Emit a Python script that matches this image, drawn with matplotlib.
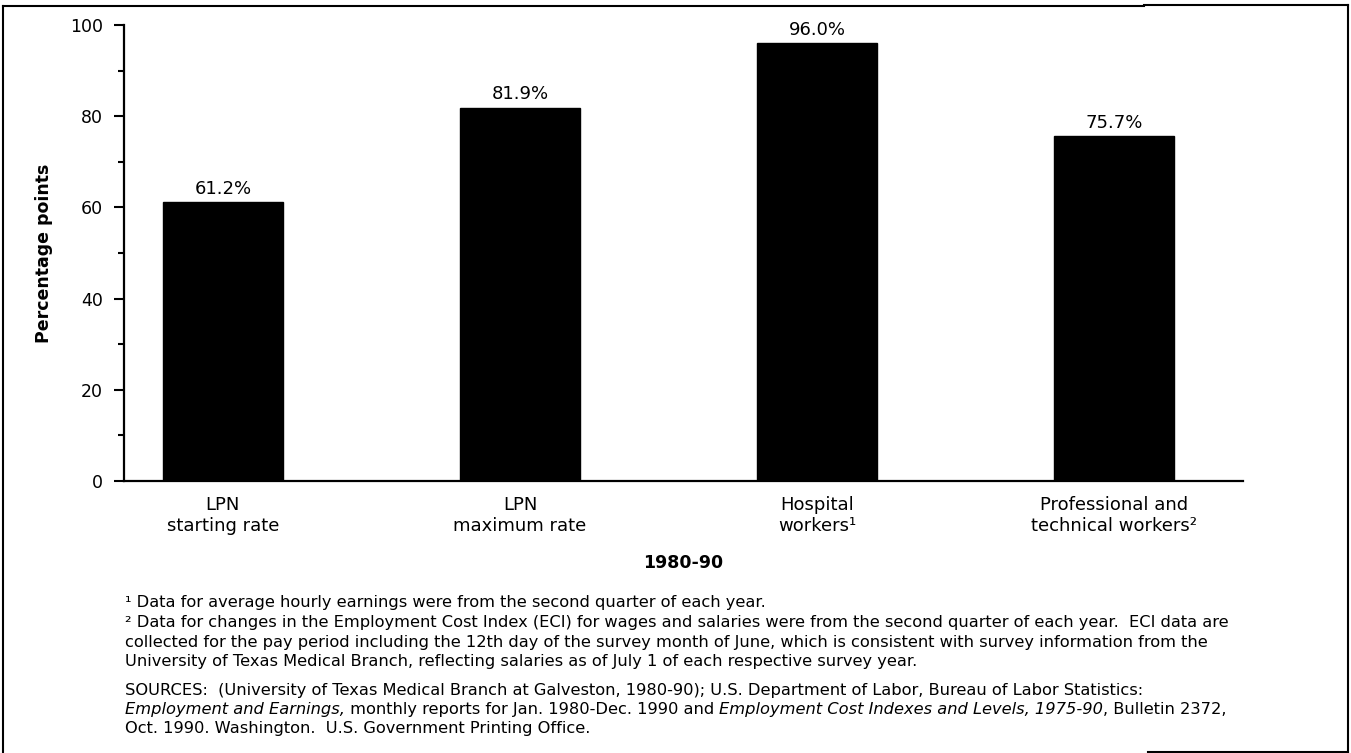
import matplotlib
matplotlib.use("Agg")
import matplotlib.pyplot as plt
from matplotlib.lines import Line2D

plt.rcParams['font.family'] = ['DejaVu Sans']

categories = ["LPN\nstarting rate", "LPN\nmaximum rate", "Hospital\nworkers¹",
              "Professional and\ntechnical workers²"]
values = [61.2, 81.9, 96.0, 75.7]
value_labels = ["61.2%", "81.9%", "96.0%", "75.7%"]
yticks = [0, 20, 40, 60, 80, 100]
ylabel = "Percentage points"
xlabel = "1980-90"

footnote_lines = [
    "¹ Data for average hourly earnings were from the second quarter of each year.",
    "² Data for changes in the Employment Cost Index (ECI) for wages and salaries were from the second quarter of each year.  ECI data are",
    "collected for the pay period including the 12th day of the survey month of June, which is consistent with survey information from the",
    "University of Texas Medical Branch, reflecting salaries as of July 1 of each respective survey year.",
]
source_lines = [
    [("SOURCES:  (University of Texas Medical Branch at Galveston, 1980-90); U.S. Department of Labor, Bureau of Labor Statistics:", "normal")],
    [("Employment and Earnings,", "italic"), (" monthly reports for Jan. 1980-Dec. 1990 and ", "normal"),
     ("Employment Cost Indexes and Levels, 1975-90", "italic"), (", Bulletin 2372,", "normal")],
    [("Oct. 1990. Washington.  U.S. Government Printing Office.", "normal")],
]

W, H = 1351, 753
fig = plt.figure(figsize=(W / 100, H / 100), dpi=100)
fig.patch.set_facecolor("white")

def fx(px):
    return px / W

def fy(py):
    return 1 - py / H

ax = fig.add_axes([fx(124), fy(481), fx(1243) - fx(124), fy(25) - fy(481)])
x = list(range(len(categories)))
bars = ax.bar(x, values, width=0.405, color="black", edgecolor="black")
ax.bar_label(bars, labels=value_labels, padding=3, fontsize=13)

ax.set_ylim(0, 100)
ax.set_xlim(-0.333, 3.434)
ax.set_yticks(yticks)
ax.set_yticks([10, 30, 50, 70, 90], minor=True)
ax.tick_params(axis="y", which="major", length=7.5, width=1.5, labelsize=12.5, pad=7.5)
ax.tick_params(axis="y", which="minor", length=4.5, width=1.5)
ax.set_xticks(x)
ax.set_xticklabels(categories, fontsize=13, linespacing=1.2)
ax.tick_params(axis="x", length=0, pad=11)
for s in ["top", "right"]:
    ax.spines[s].set_visible(False)
for s in ["left", "bottom"]:
    ax.spines[s].set_linewidth(1.6)
ax.set_ylabel(ylabel, fontsize=12.5, fontweight="bold")
ax.yaxis.set_label_coords(-(124 - 53) / (1243 - 124), 0.5)

fig.text(fx(683), fy(563), xlabel, fontsize=12.5, fontweight="bold", ha="center", va="center")

fn_size = 11.7
for i, line in enumerate(footnote_lines):
    fig.text(fx(125), fy(603 + 19.5 * i), line, fontsize=fn_size, ha="left", va="center")

renderer = fig.canvas.get_renderer()
for i, runs in enumerate(source_lines):
    xpos = fx(125)
    ypos = fy(690 + 19.5 * i)
    for txt, style in runs:
        t = fig.text(xpos, ypos, txt, fontsize=fn_size, style=style, ha="left", va="center")
        bb = t.get_window_extent(renderer=renderer)
        xpos += bb.width / W

# frame lines
lw = 1.5
fig.add_artist(Line2D([fx(3), fx(1144)], [fy(6), fy(6)], color="black", lw=lw))
fig.add_artist(Line2D([fx(1144), fx(1348)], [fy(4.5), fy(4.5)], color="black", lw=lw))
fig.add_artist(Line2D([fx(3), fx(3)], [fy(6), fy(753)], color="black", lw=lw))
fig.add_artist(Line2D([fx(1348), fx(1348)], [fy(4.5), fy(752)], color="black", lw=lw))
fig.add_artist(Line2D([fx(1148), fx(1348)], [fy(751.5), fy(751.5)], color="black", lw=lw))

fig.savefig("out.png", dpi=100, facecolor="white")
